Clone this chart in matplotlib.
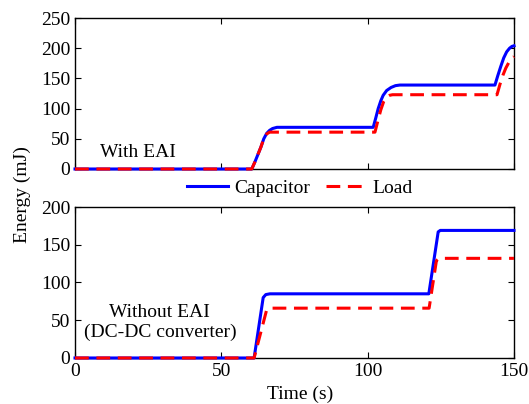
import numpy as np
import matplotlib
matplotlib.use("Agg")
import matplotlib.pyplot as plt

plt.rcParams["font.family"] = ["Liberation Serif", "DejaVu Serif"]
plt.rcParams["font.size"] = 14

# With EAI (top panel)
t_cap_eai = [0, 60.4, 61.5, 62.5, 63.5, 64.5, 65.5, 66.5, 67.5, 69, 101.9, 102.8, 103.6,
             104.5, 105.3, 106.5, 108, 109.5, 111, 143.5, 144.5, 145.5, 146.5, 147.5,
             148.5, 149.3, 150]
e_cap_eai = [0, 0, 12, 24, 36, 50, 59, 64, 67, 69, 69, 85, 100,
             113, 122, 130, 135, 138, 139, 139, 155, 170, 184, 194,
             200, 203, 204]
t_load_eai = [0, 60.4, 61.5, 62.5, 63.5, 64.5, 65.5, 66.5, 102.5, 103.5, 104.5, 105.5,
              106.5, 107.5, 108.5, 144.2, 145.2, 146.2, 147.2, 148.2, 149.2, 150]
e_load_eai = [0, 0, 12, 24, 36, 50, 58, 61, 61, 80, 98, 112,
              119, 122, 123, 123, 140, 155, 167, 176, 183, 186]

# Without EAI, DC-DC converter (bottom panel)
t_cap_dc = [0, 61.2, 64.3, 65.2, 66.6, 120.9, 124.1, 124.8, 150]
e_cap_dc = [0, 0, 80, 84, 85, 85, 167, 169, 169]
t_load_dc = [0, 61.2, 65.5, 66.5, 121.0, 123.5, 124.5, 150]
e_load_dc = [0, 0, 64, 66, 66, 129, 132, 132]

fig = plt.figure(figsize=(5.29, 4.04), dpi=100)
ax1 = fig.add_axes([0.1418, 0.5817, 0.8298, 0.3737])
ax2 = fig.add_axes([0.1418, 0.1139, 0.8298, 0.3737])

for ax, tc, ec, tl, el in [(ax1, t_cap_eai, e_cap_eai, t_load_eai, e_load_eai),
                           (ax2, t_cap_dc, e_cap_dc, t_load_dc, e_load_dc)]:
    ax.plot(tc, ec, color=(0, 0, 1), lw=2.2, label="Capacitor", clip_on=False, zorder=3)
    ax.plot(tl, el, color=(1, 0, 0), lw=2.2, ls="--", dashes=(4.5, 2.5),
            label="Load", clip_on=False, zorder=4)
    ax.set_xlim(0, 150)
    ax.tick_params(direction="in", top=True, right=True, length=4, width=0.8)
    for s in ax.spines.values():
        s.set_linewidth(1.0)

ax1.set_ylim(0, 250)
ax1.set_yticks([0, 50, 100, 150, 200, 250])
ax1.set_xticks([0, 50, 100, 150])
ax1.set_xticklabels([])
ax2.set_ylim(0, 200)
ax2.set_yticks([0, 50, 100, 150, 200])
ax2.set_xticks([0, 50, 100, 150])

ax1.text(8.5, 27, "With EAI", va="center", ha="left")
ax2.text(29, 47, "Without EAI\n(DC-DC converter)", va="center", ha="center",
         multialignment="center", linespacing=1.15)

h, l = ax1.get_legend_handles_labels()
fig.legend(h, l, loc="center", bbox_to_anchor=(0.567, 0.535), ncol=2, frameon=False,
           handlelength=2.1, handletextpad=0.3, columnspacing=0.8, borderpad=0)

fig.text(22 / 529, 1 - 195 / 404, "Energy (mJ)", rotation=90, ha="center", va="center")
fig.text(300 / 529, 1 - 394 / 404, "Time (s)", ha="center", va="center")

plt.savefig("out.png", dpi=100)
